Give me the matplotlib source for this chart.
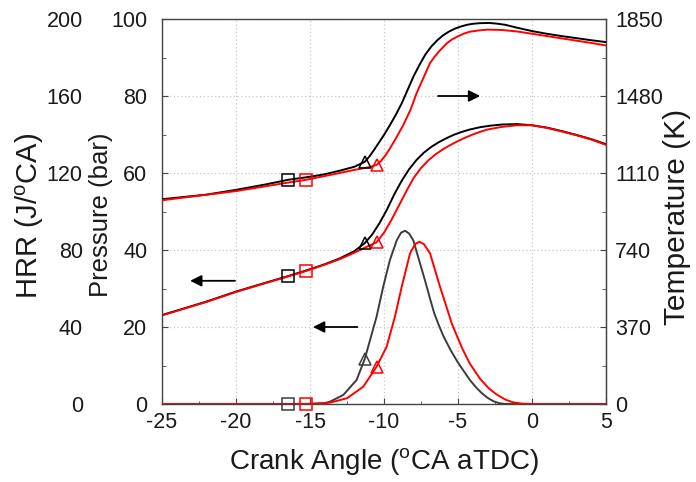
import numpy as np
import matplotlib
matplotlib.use('Agg')
import matplotlib.pyplot as plt
from matplotlib.ticker import MultipleLocator

plt.rcParams['font.family'] = ['Liberation Sans', 'DejaVu Sans']
plt.rcParams['mathtext.fontset'] = 'custom'
plt.rcParams['mathtext.rm'] = 'Liberation Sans'
plt.rcParams['axes.unicode_minus'] = False

# marker positions (crank angle) for the two cases
sq_black, tri_black = -16.5, -11.3
sq_red, tri_red = -15.3, -10.5

# in-cylinder pressure (bar)
ca_p_black = [-25, -22, -20, -18, -16.5, -15, -14, -13, -12, -11.3, -10.8, -10.3, -9.8, -9.3, -8.8, -8.3,
              -7.8, -7.3, -6.8, -6.3, -5.8, -5.3, -4.8, -4.2, -3.5, -2.8, -2, -1, 0, 1, 2, 3, 4, 5]
p_black = [23.1, 26.6, 29.2, 31.5, 33.2, 35.0, 36.3, 37.8, 39.7, 41.8, 44.0, 47.0, 50.5, 54.5, 58.0, 61.0,
           63.4, 65.3, 66.8, 68.0, 69.0, 69.9, 70.6, 71.3, 71.9, 72.3, 72.6, 72.7, 72.4, 71.8, 70.9, 69.9,
           68.8, 67.5]
ca_p_red = [-25, -22, -20, -18, -16.5, -15.3, -14, -13, -12, -11.3, -10.5, -10, -9.5, -9, -8.5, -8, -7.5,
            -7, -6.5, -6, -5.5, -5, -4.5, -4, -3.5, -3, -2, -1, 0, 1, 2, 3, 4, 5]
p_red = [23.0, 26.5, 29.1, 31.4, 33.1, 34.5, 36.2, 37.6, 39.3, 40.6, 42.0, 44.5, 47.8, 51.5, 55.2, 58.7, 61.3,
         63.3, 64.9, 66.2, 67.3, 68.3, 69.2, 70.0, 70.7, 71.3, 72.0, 72.4, 72.4, 71.7, 70.8, 69.8, 68.7, 67.3]

# heat release rate (J/oCA)
ca_h_black = [-25, -20, -16.5, -15, -14, -13.65, -12.75, -11.85, -11.3, -10.5, -10.05, -9.6, -9.14, -8.85,
              -8.58, -8.3, -8.02, -7.45, -7.15, -6.9, -6.6, -6.3, -6.0, -5.5, -5.0, -4.6, -4.2, -3.8, -3.4,
              -3.0, -2.6, -2.2, -1.8, 0, 5]
h_black = [0, 0, 0, 0.1, 0.5, 1.2, 4.7, 12.5, 23.4, 45.4, 61, 74.8, 85, 89, 90, 88.5, 85, 70, 62, 55, 47,
           41, 35.5, 28, 21.5, 17, 12.5, 8.8, 5.7, 3.2, 1.4, 0.4, 0, 0, 0]
ca_h_red = [-25, -20, -15.3, -14, -13.6, -12.5, -11.4, -10.5, -9.82, -9.26, -8.8, -8.24, -7.9, -7.61, -7.3,
            -6.89, -6.22, -5.8, -5.43, -5.0, -4.66, -4.2, -3.5, -2.9, -2.4, -1.8, -1.3, -0.7, 0, 5]
h_red = [0, 0, 0, 0.3, 0.8, 3, 9, 19.4, 29.8, 45.4, 61, 78.3, 83, 84.3, 83, 78.3, 61, 51, 42, 34, 28, 21, 13,
         8, 5, 2.3, 0.9, 0.2, 0, 0]

# mean gas temperature (K)
ca_t_black = [-25, -22, -20, -18, -16.5, -15, -14, -13, -12, -11.3, -11.0, -10.7, -10.4, -10.0, -9.6, -9.2,
              -8.8, -8.4, -8.0, -7.6, -7.2, -6.8, -6.4, -6.0, -5.6, -5.2, -4.8, -4.4, -4.0, -3.5, -2.9, -2.4,
              -1.8, -1, 0, 1, 2, 3, 4, 5]
t_black = [984, 1006, 1029, 1055, 1077, 1092, 1104, 1121, 1140, 1164, 1188, 1218, 1250, 1293, 1340, 1390,
           1445, 1510, 1575, 1630, 1680, 1718, 1748, 1772, 1790, 1804, 1814, 1822, 1827, 1830, 1831, 1828,
           1822, 1808, 1792, 1779, 1768, 1758, 1748, 1739]
ca_t_red = [-25, -20, -17, -15.3, -13, -12, -11, -10.5, -10.2, -9.9, -9.6, -9.2, -8.7, -8.2, -7.8, -7.3,
            -6.9, -6.6, -6.3, -5.76, -5.4, -5, -4.6, -4.2, -3.6, -3, -2, -1, 0, 1, 2, 3, 4, 5]
t_red = [979, 1023, 1058, 1077, 1110, 1125, 1138, 1149, 1168, 1195, 1228, 1276, 1340, 1415, 1493, 1573,
         1637, 1667, 1693, 1733, 1752, 1767, 1780, 1789, 1795, 1799, 1797, 1790, 1779, 1768, 1757, 1746,
         1735, 1723]

spine_col = '#444444'


def draw(axis, x, y, color, sq, tri, lw=1.4):
    axis.plot(x, y, color=color, lw=lw)
    for m, pos in (('s', sq), ('^', tri)):
        i = x.index(pos)
        axis.plot(x[i], y[i], marker=m, mfc='none', mec=color, ms=8.5, mew=1.1, clip_on=False, zorder=5)


fig = plt.figure(figsize=(6.96, 4.82), dpi=100)
ax = fig.add_axes([162 / 696, 78 / 482, 444 / 696, 385 / 482])
ax_t = ax.twinx()
ax_h = ax.twinx()

# pressure (main axes)
draw(ax, ca_p_black, p_black, 'black', sq_black, tri_black)
draw(ax, ca_p_red, p_red, 'red', sq_red, tri_red)
ax.set_xlim(-25, 5)
ax.set_ylim(0, 100)
ax.xaxis.set_major_locator(MultipleLocator(5))
ax.xaxis.set_minor_locator(MultipleLocator(2.5))
ax.yaxis.set_major_locator(MultipleLocator(20))
ax.yaxis.set_minor_locator(MultipleLocator(10))
ax.grid(True, ls=(0, (1, 2)), color='#c8c8c8', lw=0.9)
ax.tick_params(axis='both', which='both', direction='in', colors=spine_col, labelcolor='#1a1a1a',
               labelsize=15.5, top=False, right=False)
ax.tick_params(axis='x', which='major', length=4, pad=6)
ax.tick_params(axis='x', which='minor', length=2.5)
ax.tick_params(axis='y', which='major', length=4, pad=10.5)
ax.tick_params(axis='y', which='minor', length=3)
for s in ax.spines.values():
    s.set_color(spine_col)
    s.set_linewidth(1.0)

# temperature (right axis)
draw(ax_t, ca_t_black, t_black, 'black', sq_black, tri_black)
draw(ax_t, ca_t_red, t_red, 'red', sq_red, tri_red)
ax_t.set_ylim(0, 1850)
ax_t.yaxis.set_major_locator(MultipleLocator(370))
ax_t.yaxis.set_minor_locator(MultipleLocator(185))
ax_t.tick_params(axis='y', which='both', direction='in', colors=spine_col, labelcolor='#1a1a1a',
                 labelsize=15.5, pad=6.5)
ax_t.tick_params(axis='y', which='major', length=4)
ax_t.tick_params(axis='y', which='minor', length=3)
for k, s in ax_t.spines.items():
    s.set_visible(k == 'right')
    s.set_color(spine_col)

# heat release rate (outer left axis, labels only)
draw(ax_h, ca_h_black, h_black, '#3c3c3c', sq_black, tri_black)
draw(ax_h, ca_h_red, h_red, 'red', sq_red, tri_red)
ax_h.set_ylim(0, 200)
ax_h.yaxis.set_major_locator(MultipleLocator(40))
ax_h.yaxis.set_ticks_position('left')
ax_h.spines['left'].set_position(('outward', 57))
for s in ax_h.spines.values():
    s.set_visible(False)
ax_h.tick_params(axis='y', length=0, pad=0, labelsize=15.5, labelcolor='#1a1a1a')

# direction arrows
arrow = dict(arrowstyle='-|>', color='black', lw=1.3, mutation_scale=17, shrinkA=0, shrinkB=0)
ax.annotate('', xy=(-3.5, 80), xytext=(-6.35, 80), arrowprops=arrow, zorder=6)
ax.annotate('', xy=(-23.1, 32), xytext=(-20.07, 32), arrowprops=arrow, zorder=6)
ax.annotate('', xy=(-14.8, 20), xytext=(-11.8, 20), arrowprops=arrow, zorder=6)

# axis titles
fig.text(384 / 696, 1 - 462 / 482, 'Crank Angle (${}^{\\mathregular{o}}$CA aTDC)', ha='center', va='center',
         fontsize=20, color='#1a1a1a')
fig.text(101 / 696, 1 - 215 / 482, 'Pressure (bar)', rotation=90, ha='center', va='center',
         fontsize=18.5, color='#1a1a1a')
fig.text(30 / 696, 1 - 216 / 482, 'HRR (J/${}^{\\mathregular{o}}$CA)', rotation=90, ha='center', va='center',
         fontsize=21, color='#1a1a1a')
fig.text(677 / 696, 1 - 217 / 482, 'Temperature (K)', rotation=90, ha='center', va='center',
         fontsize=21.5, color='#1a1a1a')

fig.savefig('out.png', dpi=100)
